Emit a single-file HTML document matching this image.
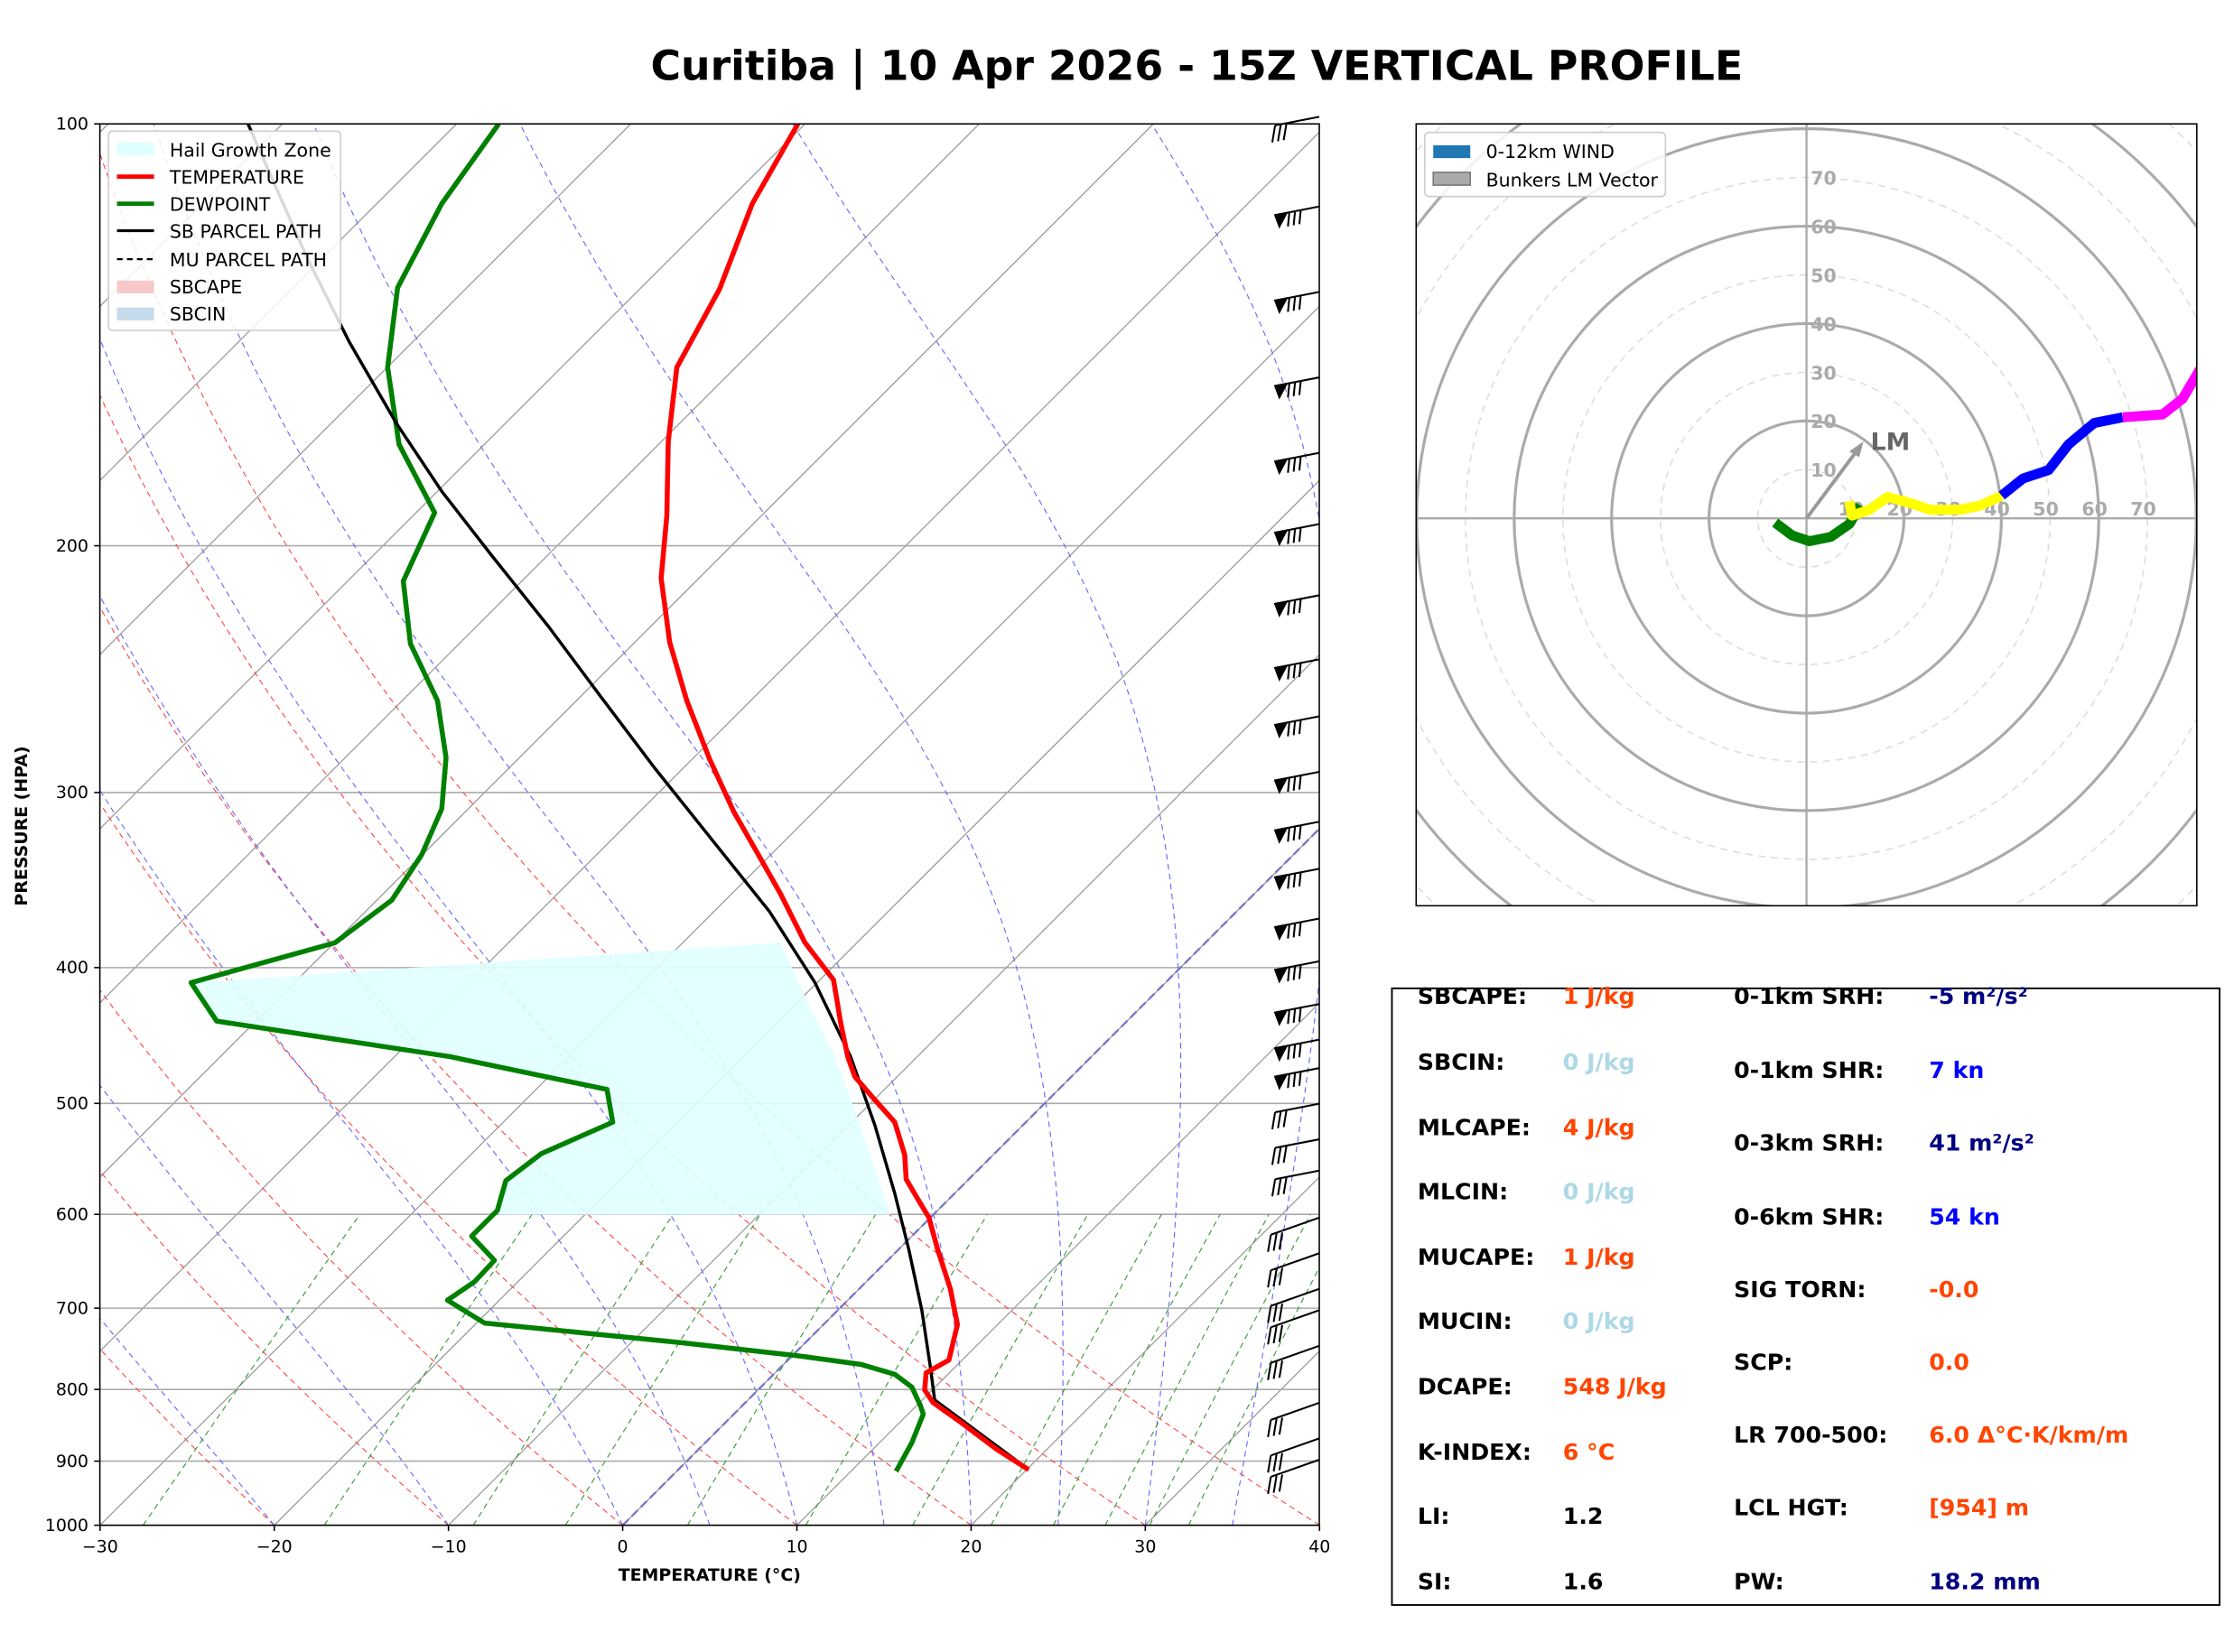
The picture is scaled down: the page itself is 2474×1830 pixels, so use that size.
<!DOCTYPE html>
<html><head><meta charset="utf-8"><style>
html,body{margin:0;padding:0;background:#fff;}
svg{display:block;font-family:"DejaVu Sans","Liberation Sans",sans-serif;}
</style></head><body>
<svg id="s" width="2474" height="1830" viewBox="0 0 1568 1160" xmlns="http://www.w3.org/2000/svg">
<defs>
<clipPath id="cp"><rect x="70" y="87" width="856" height="984"/></clipPath>
<clipPath id="ch"><rect x="994" y="87" width="548" height="549"/></clipPath>
</defs>
<rect width="1568" height="1160" fill="#fff"/>
<text x="840" y="56" font-size="29" font-weight="bold" text-anchor="middle">Curitiba | 10 Apr 2026 - 15Z VERTICAL PROFILE</text>
<g id="bg" clip-path="url(#cp)"></g>
<g id="fg" clip-path="url(#cp)"></g>
<rect x="70" y="87" width="856" height="984" fill="none" stroke="#000" stroke-width="1"/>
<g id="ax" font-size="12"></g>
<text x="498" y="1110" font-size="12" font-weight="bold" text-anchor="middle">TEMPERATURE (°C)</text>
<text transform="translate(19,580) rotate(-90)" font-size="12" font-weight="bold" text-anchor="middle">PRESSURE (HPA)</text>
<g id="barbs" stroke="#000" stroke-width="1.3" fill="#000"></g>
<g font-size="13">
<rect x="76" y="92" width="163" height="140" fill="#fff" fill-opacity="0.85" stroke="#ccc" rx="3"/>
<rect x="82" y="100" width="26" height="9" fill="#e0ffff"/><text x="119" y="110">Hail Growth Zone</text>
<line x1="82" y1="124" x2="108" y2="124" stroke="red" stroke-width="3"/><text x="119" y="129">TEMPERATURE</text>
<line x1="82" y1="143" x2="108" y2="143" stroke="green" stroke-width="3"/><text x="119" y="148">DEWPOINT</text>
<line x1="82" y1="162" x2="108" y2="162" stroke="#000" stroke-width="2"/><text x="119" y="167">SB PARCEL PATH</text>
<line x1="82" y1="182" x2="108" y2="182" stroke="#000" stroke-width="1.5" stroke-dasharray="4,3"/><text x="119" y="187">MU PARCEL PATH</text>
<rect x="82" y="197" width="26" height="9" fill="#f8c8c8"/><text x="119" y="206">SBCAPE</text>
<rect x="82" y="216" width="26" height="9" fill="#c6dbec"/><text x="119" y="225">SBCIN</text>
</g>
<g id="hod" clip-path="url(#ch)"></g>
<rect x="994" y="87" width="548" height="549" fill="none" stroke="#000" stroke-width="1"/>
<g font-size="13">
<rect x="1000" y="93" width="169" height="45" fill="#fff" fill-opacity="0.85" stroke="#ccc" rx="3"/>
<rect x="1006" y="102" width="26" height="9" fill="#1f77b4"/><text x="1043" y="111">0-12km WIND</text>
<rect x="1006" y="121" width="26" height="9" fill="#aaa" stroke="#777"/><text x="1043" y="131">Bunkers LM Vector</text>
</g>
<rect x="977" y="694" width="581" height="433" fill="#fff" stroke="#000" stroke-width="1.2"/>
<g font-size="16" font-weight="bold">
<text x="995" y="705">SBCAPE:</text><text x="1097" y="705" fill="#ff4500">1 J/kg</text>
<text x="995" y="751">SBCIN:</text><text x="1097" y="751" fill="#add8e6">0 J/kg</text>
<text x="995" y="797">MLCAPE:</text><text x="1097" y="797" fill="#ff4500">4 J/kg</text>
<text x="995" y="842">MLCIN:</text><text x="1097" y="842" fill="#add8e6">0 J/kg</text>
<text x="995" y="888">MUCAPE:</text><text x="1097" y="888" fill="#ff4500">1 J/kg</text>
<text x="995" y="933">MUCIN:</text><text x="1097" y="933" fill="#add8e6">0 J/kg</text>
<text x="995" y="979">DCAPE:</text><text x="1097" y="979" fill="#ff4500">548 J/kg</text>
<text x="995" y="1025">K-INDEX:</text><text x="1097" y="1025" fill="#ff4500">6 °C</text>
<text x="995" y="1070">LI:</text><text x="1097" y="1070">1.2</text>
<text x="995" y="1116">SI:</text><text x="1097" y="1116">1.6</text>
<text x="1217" y="705">0-1km SRH:</text><text x="1354" y="705" fill="#000080">-5 m²/s²</text>
<text x="1217" y="757">0-1km SHR:</text><text x="1354" y="757" fill="#0000ff">7 kn</text>
<text x="1217" y="808">0-3km SRH:</text><text x="1354" y="808" fill="#000080">41 m²/s²</text>
<text x="1217" y="860">0-6km SHR:</text><text x="1354" y="860" fill="#0000ff">54 kn</text>
<text x="1217" y="911">SIG TORN:</text><text x="1354" y="911" fill="#ff4500">-0.0</text>
<text x="1217" y="962">SCP:</text><text x="1354" y="962" fill="#ff4500">0.0</text>
<text x="1217" y="1013">LR 700-500:</text><text x="1354" y="1013" fill="#ff4500">6.0 Δ°C·K/km/m</text>
<text x="1217" y="1064">LCL HGT:</text><text x="1354" y="1064" fill="#ff4500">[954] m</text>
<text x="1217" y="1116">PW:</text><text x="1354" y="1116" fill="#000080">18.2 mm</text>
</g>
<script>
(function(){
var NS="http://www.w3.org/2000/svg";
function el(p,t,a,txt){var e=document.createElementNS(NS,t);for(var k in a)e.setAttribute(k,a[k]);if(txt!=null)e.textContent=txt;p.appendChild(e);return e;}
function Y(p){return 1071-984*Math.log10(1000/p);}
function X(T,p){return 437+T*12.229+(1071-Y(p));}
var bg=document.getElementById('bg'),fg=document.getElementById('fg'),ax=document.getElementById('ax');
function pts(a){return a.map(function(q){return q[0].toFixed(1)+','+q[1].toFixed(1)}).join(' ');}
for(var T=-120;T<=40;T+=10){el(bg,'line',{x1:X(T,1000),y1:1071,x2:X(T,100),y2:87,stroke:'#999',"stroke-width":0.8});}
[100,200,300,400,500,600,700,800,900,1000].forEach(function(p){var y=Y(p);el(bg,'line',{x1:70,y1:y,x2:926,y2:y,stroke:'#aaa',"stroke-width":1});el(ax,'text',{x:62,y:y+4,"text-anchor":"end"},p);el(ax,'line',{x1:66,y1:y,x2:70,y2:y,stroke:'#000'});});
for(var T=-30;T<=40;T+=10){var x=437+T*12.229;el(ax,'line',{x1:x,y1:1071,x2:x,y2:1075,stroke:'#000'});el(ax,'text',{x:x,y:1090,"text-anchor":"middle"},T<0?'\u2212'+(-T):T);}
for(var T0=-30;T0<=40;T0+=10){var th=T0+273.15,a=[];for(var p=1000;p>=100;p-=10){var Tk=th*Math.pow(p/1000,0.286);a.push([X(Tk-273.15,p),Y(p)]);}el(bg,'polyline',{points:pts(a),fill:'none',stroke:'#f44',"stroke-width":0.7,"stroke-dasharray":"4,3"});}
function es(T){return 6.112*Math.exp(17.67*T/(T+243.5));}
[-20,-10,0,5,10,15,20,25,30,35].forEach(function(T0){var T=T0,a=[];for(var p=1000;p>=100;p-=5){a.push([X(T,p),Y(p)]);var Tk=T+273.15,rs=0.622*es(T)/(p-es(T));var d=(287*Tk+2.5e6*rs)/(1005+2.5e6*2.5e6*rs*0.622/(287*Tk*Tk))/p;T-=d*5;}el(bg,'polyline',{points:pts(a),fill:'none',stroke:'#66f',"stroke-width":0.7,"stroke-dasharray":"4,3"});});
[0.4,1,2,3,5,8,12,16,20,24,28,32].forEach(function(w){var a=[];for(var p=1000;p>=600;p-=20){var e=w/1000*p/(0.622+w/1000);var l=Math.log(e/6.112);var Td=243.5*l/(17.67-l);a.push([X(Td,p),Y(p)]);}el(bg,'polyline',{points:pts(a),fill:'none',stroke:'#393',"stroke-width":0.7,"stroke-dasharray":"4,3"});});
el(bg,'line',{x1:X(0,1000),y1:1071,x2:X(0,100),y2:87,stroke:'#77c',"stroke-width":1.5,"stroke-dasharray":"6,3"});
el(fg,'polygon',{points:"135,690 548,662 565,700 585,740 600,780 612,815 625,853 350,853 355,829 380,810 430,788 426,765 316,742 152,717",fill:'#e0ffff',"fill-opacity":0.9});
var tmp=[[722,1032],[700,1018],[672,997],[655,985],[649,976],[650,964],[666,955],[672,930],[667,905],[658,877],[652,855],[643,840],[636,828],[635,811],[628,788],[612,770],[600,756],[595,742],[590,718],[585,688],[565,662],[548,628],[535,605],[515,570],[498,533],[482,492],[470,451],[464,406],[468,362],[469,310],[475,258],[505,203],[528,143],[560,87]];
var dew=[[629,1033],[640,1013],[648,993],[646,987],[640,974],[628,965],[604,958],[560,952],[480,943],[340,929],[314,913],[333,900],[347,885],[331,868],[349,850],[355,829],[380,810],[430,788],[426,765],[316,742],[152,717],[134,690],[235,662],[275,632],[296,600],[310,568],[313,532],[307,492],[288,452],[283,408],[305,360],[280,312],[272,258],[279,202],[310,143],[350,87]];
var par=[[722,1032],[656,983],[653,960],[647,920],[638,878],[628,838],[614,790],[597,742],[572,690],[540,640],[500,590],[460,540],[420,487],[385,440],[345,390],[310,345],[278,297],[245,240],[215,180],[174,87]];
el(fg,'polyline',{points:pts(dew),fill:'none',stroke:'green',"stroke-width":3.5,"stroke-linejoin":"round"});
el(fg,'polyline',{points:pts(par),fill:'none',stroke:'#000',"stroke-width":2.2});
el(fg,'polyline',{points:pts(tmp),fill:'none',stroke:'red',"stroke-width":3.5,"stroke-linejoin":"round"});
var bb=document.getElementById('barbs');
var by=[82,145,205,265,318,368,418,463,503,542,577,610,645,675,705,730,750,775,800,822,855,880,905,920,945,985,1010,1025];
by.forEach(function(y,i){var x0=926,x1=895,y1=y+6;
 if(i>=20){x1=892;y1=y+12;}
 el(bb,'line',{x1:x0,y1:y,x2:x1,y2:y1});
 if(i>0&&i<17){el(bb,'polygon',{points:x1+','+y1+' '+(x1+8)+','+(y1-1.5)+' '+(x1+3)+','+(y1+8)});
  for(var k=0;k<3;k++){var xx=x1+10+k*4,yy=y1-2-k*0.8;el(bb,'line',{x1:xx,y1:yy,x2:xx-1,y2:yy+10});}}
 else{for(var k=0;k<3;k++){var xx=x1+k*4,yy=y1-k*0.8;el(bb,'line',{x1:xx,y1:yy,x2:xx-2,y2:yy+12});}}
});
var h=document.getElementById('hod'),cx=1268,cy=364,s=3.42;
for(var r=10;r<=160;r+=10){el(h,'circle',{cx:cx,cy:cy,r:r*s,fill:'none',stroke:r%20==0?'#aaa':'#ddd',"stroke-width":r%20==0?2:1,"stroke-dasharray":r%20==0?'none':'5,4'});}
el(h,'line',{x1:994,y1:cy,x2:1542,y2:cy,stroke:'#aaa',"stroke-width":1.5});
el(h,'line',{x1:cx,y1:87,x2:cx,y2:636,stroke:'#aaa',"stroke-width":1.5});
for(var v=10;v<=70;v+=10){el(h,'text',{x:cx+3,y:cy-v*s+5,"font-size":13,"font-weight":"bold",fill:'#aaa'},v);el(h,'text',{x:cx+v*s-12,y:cy-2,"font-size":13,"font-weight":"bold",fill:'#aaa'},v);}
function hl(a,c){el(h,'polyline',{points:pts(a),fill:'none',stroke:c,"stroke-width":7,"stroke-linejoin":"round"});}
hl([[1246,367],[1258,376],[1270,380],[1285,377],[1298,368],[1306,355]],'green');
hl([[1298,352],[1300,362],[1312,358],[1325,349],[1340,353],[1355,358],[1375,358],[1390,355],[1405,348]],'yellow');
hl([[1405,348],[1420,336],[1438,330],[1452,312],[1470,297],[1490,293]],'blue');
hl([[1490,293],[1518,291],[1532,280],[1545,258]],'magenta');
el(h,'line',{x1:cx,y1:cy,x2:1306,y2:313,stroke:'#999',"stroke-width":2.5});
el(h,'polygon',{points:"1308,310 1298,317 1305,321",fill:'#999'});
el(h,'text',{x:1313,y:316,"font-size":17,"font-weight":"bold",fill:'#666'},'LM');
})();
</script>
</svg>
</body></html>
